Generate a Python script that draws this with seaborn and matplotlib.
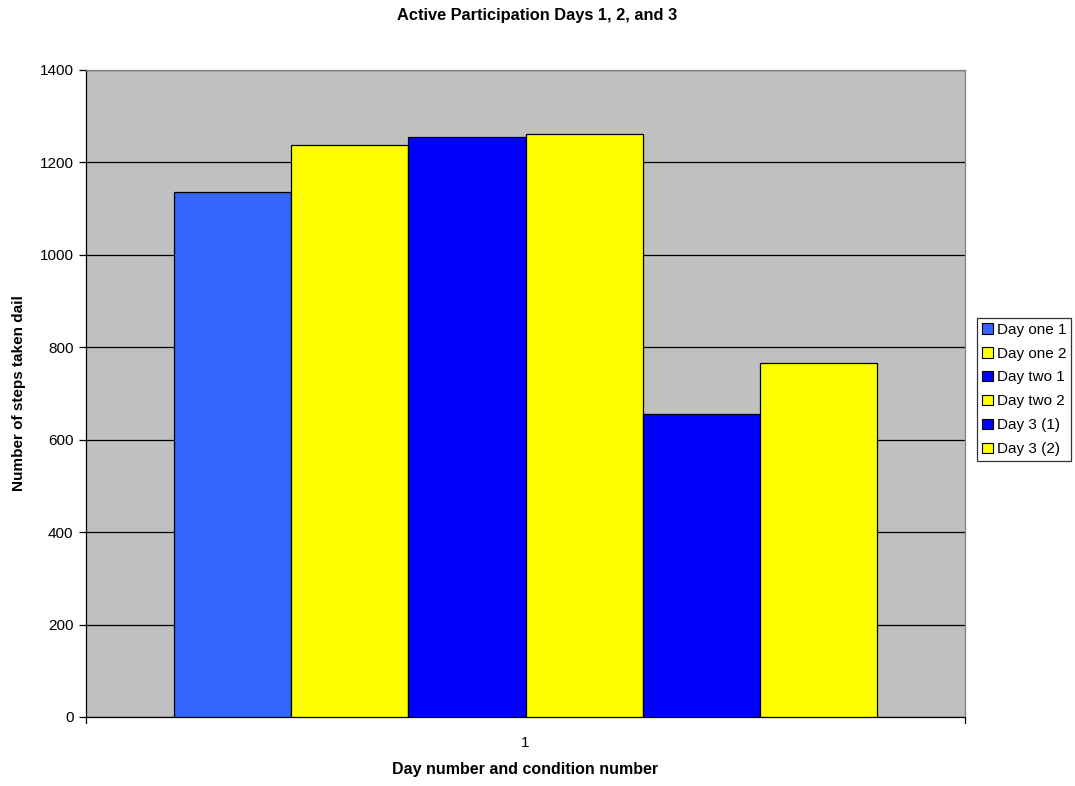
import matplotlib
matplotlib.use("Agg")
import matplotlib.pyplot as plt
import seaborn as sns
import pandas as pd
from matplotlib.patches import Patch

# Daily step counts per day and condition
categories = ["1"]
series = ["Day one 1", "Day one 2", "Day two 1", "Day two 2", "Day 3 (1)", "Day 3 (2)"]
steps = [1135, 1238, 1255, 1261, 655, 766]
colors = ["#3366FF", "#FFFF00", "#0000FF", "#FFFF00", "#0000FF", "#FFFF00"]
y_ticks = [0, 200, 400, 600, 800, 1000, 1200, 1400]

sns.set_theme(style="white")
plt.rcParams["font.family"] = ["Liberation Sans", "DejaVu Sans"]
plt.rcParams.update({
    "text.color": "black",
    "axes.labelcolor": "black",
    "xtick.color": "black",
    "ytick.color": "black",
})

df = pd.DataFrame({
    "category": categories * len(series),
    "series": series,
    "steps": steps,
})

fig = plt.figure(figsize=(10.75, 7.86), dpi=100)
ax = fig.add_axes([0.08, 0.0878, 0.8177, 0.8232])
ax.set_facecolor("#C0C0C0")

sns.barplot(data=df, x="category", y="steps", hue="series", hue_order=series,
            palette=colors, saturation=1, width=0.8, edgecolor="black",
            linewidth=0.9, legend=False, ax=ax, zorder=3)

ax.set_ylim(0, 1400)
ax.set_xlim(-0.5, 0.5)
ax.set_yticks(y_ticks)
ax.set_yticklabels([str(v) for v in y_ticks], fontsize=11)
ax.yaxis.grid(True, color="black", linewidth=0.9, zorder=1)
ax.set_axisbelow(True)
ax.tick_params(axis="y", direction="out", length=5, width=0.9, color="black",
               left=True, pad=4)
ax.set_xticks([0])
ax.set_xticklabels(categories, fontsize=11)
ax.tick_params(axis="x", bottom=False, pad=8)
# tick marks at the category boundaries
for xb in (-0.5, 0.5):
    ax.plot([xb, xb], [0, -12], color="black", linewidth=0.9, clip_on=False)

for side in ("left", "bottom"):
    ax.spines[side].set_color("black")
    ax.spines[side].set_linewidth(0.9)
for side in ("top", "right"):
    ax.spines[side].set_color("#808080")
    ax.spines[side].set_linewidth(0.9)

ax.set_xlabel("Day number and condition number", fontsize=11.5,
              fontweight="bold", labelpad=8)
ax.set_ylabel("Number of steps taken dail", fontsize=11, fontweight="bold",
              labelpad=10)
fig.suptitle("Active Participation Days 1, 2, and 3", fontsize=11.8,
             fontweight="bold", y=0.99)

handles = [Patch(facecolor=c, edgecolor="black", linewidth=0.8) for c in colors]
leg = fig.legend(handles, series, loc="upper left",
                 bbox_to_anchor=(0.909, 0.596), fontsize=11, frameon=True,
                 fancybox=False, handlelength=0.7, handleheight=0.7,
                 handletextpad=0.25, labelspacing=0.65, borderpad=0.33,
                 borderaxespad=0)
leg.get_frame().set_edgecolor("black")
leg.get_frame().set_linewidth(0.9)
leg.get_frame().set_facecolor("white")

fig.savefig("out.png", dpi=100)
